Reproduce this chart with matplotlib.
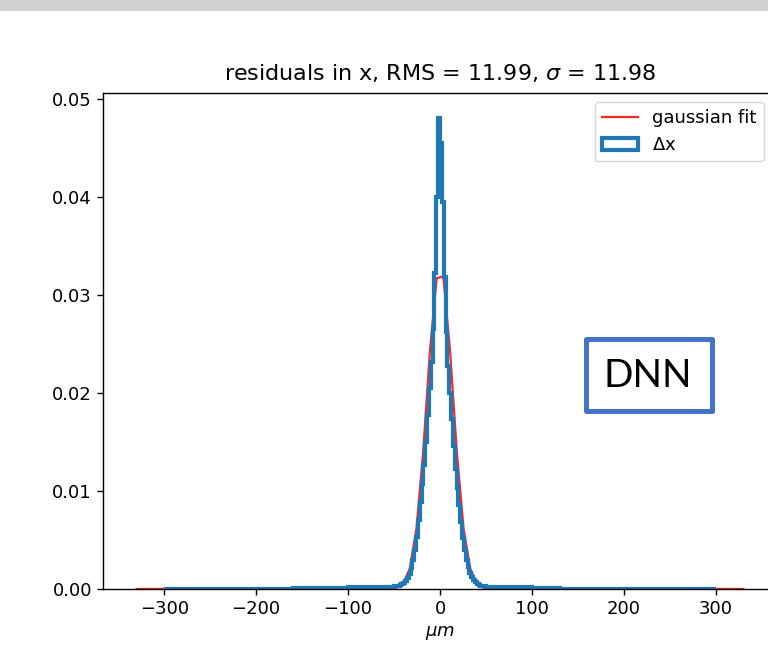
import matplotlib
matplotlib.use('Agg')
import matplotlib.pyplot as plt
from matplotlib.patches import Rectangle
import numpy as np

# residual histogram (density), bins of 2 um in the core, coarse in the tails
core_edges = list(range(-60, 62, 2))
left_tail_edges = [-300, -250, -200, -160, -130, -100, -80, -70]
right_tail_edges = [70, 80, 100, 130, 160, 200, 250, 300]
hist_edges = left_tail_edges + core_edges + right_tail_edges

left_tail_vals = [0.00002, 0.00002, 0.00003, 0.00008, 0.00012, 0.00018, 0.0002, 0.0002]
core_vals_left = [0.0002, 0.0002, 0.00022, 0.00025, 0.00025, 0.0003, 0.0003, 0.00035,
                  0.0004, 0.0005, 0.0006, 0.0008, 0.0011, 0.0015, 0.0021, 0.0030,
                  0.0040, 0.0053, 0.0070, 0.0089, 0.0107, 0.0127, 0.0150, 0.0178,
                  0.0205, 0.0232, 0.0265, 0.0322, 0.0400, 0.0481]
core_vals_right = [0.0455, 0.0395, 0.0318, 0.0262, 0.0228, 0.0200, 0.0173, 0.0146,
                   0.0122, 0.0103, 0.0086, 0.0068, 0.0052, 0.0040, 0.0030, 0.0022,
                   0.0016, 0.0012, 0.0009, 0.0007, 0.0005, 0.0004, 0.00035, 0.0003,
                   0.0003, 0.00025, 0.00022, 0.0002, 0.0002, 0.0002]
right_tail_vals = [0.0002, 0.0002, 0.00018, 0.00015, 0.00005, 0.00002, 0.00002, 0.00002]
hist_vals = left_tail_vals + core_vals_left + core_vals_right + right_tail_vals

# gaussian fit curve
fit_x = [-330, -47.5, -40.2, -32.9, -25.6, -18.3, -11.0, -3.65,
         3.65, 11.0, 18.3, 25.6, 32.9, 40.2, 47.5, 330]
fit_y = [0.0, 0.0001, 0.00053, 0.00208, 0.00618, 0.0140, 0.0242, 0.0317,
         0.0319, 0.0242, 0.0140, 0.00618, 0.00208, 0.00053, 0.0001, 0.0]

title = r'residuals in x, RMS = 11.99, $\sigma$ = 11.98'

fig = plt.figure(figsize=(7.68, 6.57), dpi=100)
fig.patches.append(Rectangle((0, 1 - 11 / 657), 1, 11 / 657, transform=fig.transFigure,
                             facecolor='#d0d0d0', edgecolor='none', zorder=0))

ax = fig.add_axes([103 / 768, 1 - 589 / 657, 674 / 768, 496 / 657])
ax.plot(fit_x, fit_y, color='red', alpha=0.85, lw=1.6, label='gaussian fit')
bin_centers = [(a + b) / 2 for a, b in zip(hist_edges[:-1], hist_edges[1:])]
ax.hist(bin_centers, bins=hist_edges, weights=hist_vals, histtype='step',
        color='#1f77b4', lw=3, label=r'$\Delta$x')

ax.set_xlim(-366.6, 366.6)
ax.set_ylim(0, 0.0506)
ax.set_xticks([-300, -200, -100, 0, 100, 200, 300])
ax.set_yticks([0.0, 0.01, 0.02, 0.03, 0.04, 0.05])
ax.yaxis.set_major_formatter(matplotlib.ticker.FormatStrFormatter('%.2f'))
ax.tick_params(labelsize=13, width=1.0, length=4.5)
for s in ax.spines.values():
    s.set_linewidth(1.0)
ax.set_title(title, fontsize=16, pad=9)
ax.set_xlabel(r'$\mu m$', fontsize=13)
ax.legend(loc='upper right', fontsize=13, handlelength=2.0,
          bbox_to_anchor=(764 / 768, 1 - 102 / 657), bbox_transform=fig.transFigure,
          borderaxespad=0)

# DNN label box
fig.patches.append(Rectangle((585.5 / 768, 1 - 410.5 / 657), 126 / 768, 72 / 657,
                             transform=fig.transFigure, facecolor='white',
                             edgecolor='#4472c4', lw=3.6, joinstyle='round', zorder=5))
fig.text(648 / 768, 1 - 376 / 657, 'DNN', ha='center', va='center', fontsize=28,
         family=['Lato', 'DejaVu Sans'], zorder=6)

fig.savefig('out.png', dpi=100)
